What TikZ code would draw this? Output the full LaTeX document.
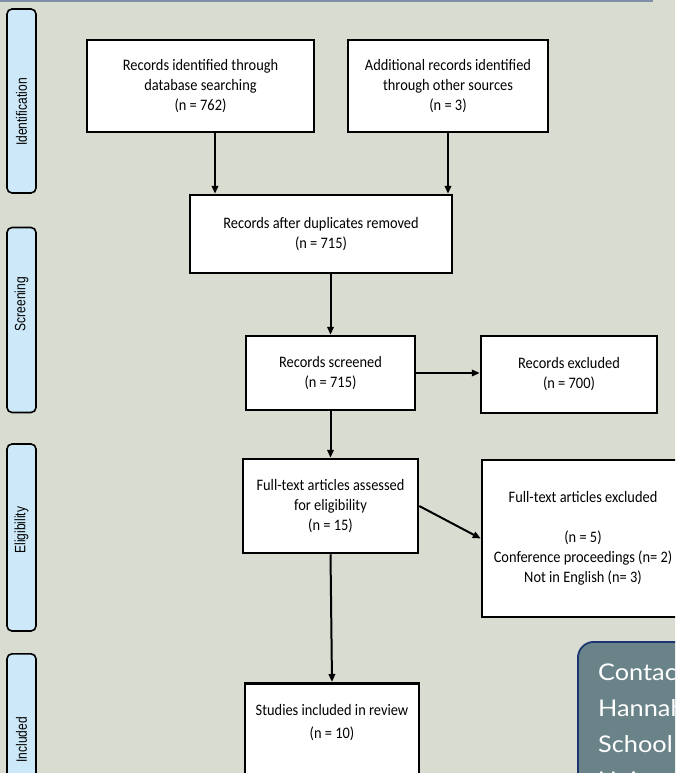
\documentclass[tikz,border=0pt]{standalone}
\usepackage{fontspec}
\setmainfont{Carlito}
\newfontfamily\boxfont[FakeStretch=0.9]{Carlito}
\newfontfamily\sidefont[FakeStretch=0.8]{Liberation Sans}
\newfontfamily\contactfont[FakeStretch=1.1]{Lato}
\usetikzlibrary{arrows.meta}
\definecolor{bgc}{HTML}{D9DCD1}
\definecolor{topline}{HTML}{8090A8}
\definecolor{sidefill}{HTML}{CDE9F9}
\definecolor{contactfill}{HTML}{6A8389}
\definecolor{contactline}{HTML}{1B3670}
\tikzset{
  flowbox/.style={draw=black, line width=2.5pt, fill=white, align=center, inner sep=0pt,
    font=\boxfont\fontsize{16}{20}\selectfont},
  sidebox/.style={draw=black, line width=1.6pt, fill=sidefill, rounded corners=5pt, inner sep=0pt,
    minimum width=29pt},
  sidetext/.style={rotate=90, inner sep=0pt, font=\sidefont\fontsize{15}{18}\selectfont},
  arr/.style={draw=black, line width=2pt, -{Triangle[length=8pt,width=6.5pt]}},
}
\begin{document}
\begin{tikzpicture}[x=1pt,y=-1pt]
\useasboundingbox (0,0) rectangle (675,773);
\clip (0,0) rectangle (675,773);
\fill[bgc] (0,0) rectangle (675,773);
\draw[topline, line width=2pt] (0,0.8) -- (653,0.8);

% side stage labels
\node[sidebox, minimum height=184pt] (sid) at (21.5,101) {};
\node[sidetext] (sidt) at (21.5,112) {Identification};
\node[sidebox, minimum height=185pt] (ssc) at (21.5,320) {};
\node[sidetext] (ssct) at (21.5,304) {Screening};
\node[sidebox, minimum height=187pt] (sel) at (21.5,537.5) {};
\node[sidetext] (selt) at (21.5,530) {Eligibility};
\node[sidebox, minimum height=190pt, anchor=north] (sin) at (21.5,653) {};
\node[sidetext, anchor=east] (sint) at (21.5,717) {Included};

% flow boxes
\node[flowbox, minimum width=227pt, minimum height=92pt] (b1) at (200.5,86)
  {Records identified through\\database searching\\(n = 762)};
\node[flowbox, minimum width=200pt, minimum height=92pt] (b2) at (448,86)
  {Additional records identified\\through other sources\\(n = 3)};
\node[flowbox, minimum width=262pt, minimum height=78pt] (b3) at (321,234)
  {Records after duplicates removed\\(n = 715)};
\node[flowbox, minimum width=169pt, minimum height=74pt] (b4) at (330.5,373)
  {Records screened\\(n = 715)};
\node[flowbox, minimum width=176pt, minimum height=77pt] (b5) at (569,374.5)
  {Records excluded\\(n = 700)};
\node[flowbox, minimum width=175pt, minimum height=94pt] (b6) at (330.5,506)
  {Full-text articles assessed\\for eligibility\\(n = 15)};
\node[flowbox, minimum width=202pt, minimum height=157pt] (b7) at (583,538.5)
  {Full-text articles excluded\\[20pt](n = 5)\\Conference proceedings (n= 2)\\Not in English (n= 3)};
\node[flowbox, minimum width=174pt, minimum height=130pt, anchor=north] (b8) at (332,682) {};
\node[align=center, inner sep=0pt, anchor=north, font=\boxfont\fontsize{16}{23}\selectfont] (b8t)
  at ([yshift=-22pt]b8.north) {Studies included in review\\(n = 10)};

% connectors
\draw[arr] ([xshift=14.5pt]b1.south) -- ([xshift=14.5pt]b1.south |- b3.north);
\draw[arr] (b2.south) -- (b2.south |- b3.north);
\draw[arr] (b3.south -| b4.north) -- (b4.north);
\draw[arr] (b4.east) -- (b4.east -| b5.west);
\draw[arr] (b4.south) -- (b6.north);
\draw[arr] (b6.east) -- (b7.west);
\draw[arr] (b6.south) -- (b8.north);

% contact panel
\node[draw=contactline, line width=1.8pt, fill=contactfill, rounded corners=16pt,
  minimum width=160pt, minimum height=200pt, anchor=north west, inner sep=0pt] (contact) at (577,641) {};
\node[anchor=north west, align=left, inner sep=0pt, text=white,
  font=\contactfont\fontsize{23}{36}\selectfont] (contactt) at (598,664)
  {Contact\\Hannah\\School\\University};
\end{tikzpicture}
\end{document}
